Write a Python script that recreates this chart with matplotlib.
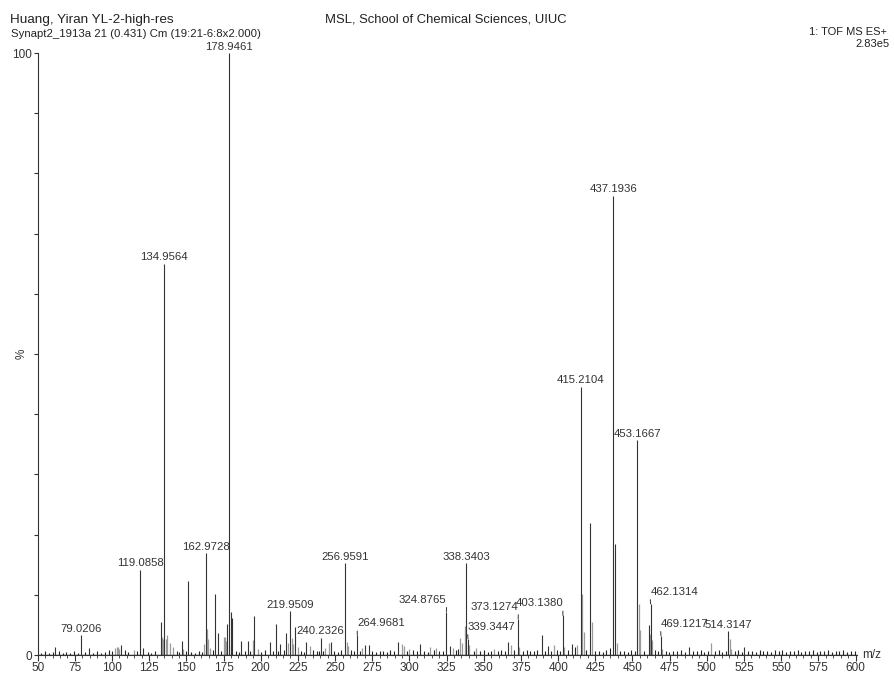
import matplotlib
matplotlib.use("Agg")
import matplotlib.pyplot as plt
from matplotlib.ticker import MultipleLocator, FixedLocator

plt.rcParams['font.family'] = ['Liberation Sans', 'DejaVu Sans']

# labelled peaks: m/z, relative intensity (%)
label_mz = [79.0206, 119.0858, 134.9564, 162.9728, 178.9461, 219.9509, 240.2326,
            256.9591, 264.9681, 324.8765, 338.3403, 339.3447, 373.1274, 403.1380,
            415.2104, 437.1936, 453.1667, 462.1314, 469.1217, 514.3147]
label_int = [3.3, 14.2, 65.0, 16.9, 100.0, 7.3, 2.9,
             15.3, 3.3, 7.2, 15.3, 2.7, 6.0, 6.6,
             44.6, 76.3, 35.7, 8.5, 3.2, 4.0]
# label placement: 0 = above, -1 = shifted left w/ leader, +1 = shifted right w/ leader
label_side = [0, 0, 0, 0, 0, 0, 0,
              0, 1, -1, 0, 1, -1, -1,
              0, 0, 0, 1, 1, 0]

# other dark peaks
dark_mz = [61.8, 84.6, 106.0, 121.0, 133.0, 147.2, 151.0, 169.0, 171.0, 177.2,
           179.9, 181.0, 187.0, 191.5, 195.8, 206.0, 210.1, 213.0, 217.2, 223.0,
           230.7, 247.0, 270.0, 272.6, 292.4, 307.0, 327.0, 366.5, 389.3, 393.0,
           409.0, 421.6, 438.3, 460.9, 488.0, 525.0]
dark_int = [1.4, 1.1, 1.6, 1.2, 5.4, 2.4, 12.3, 10.1, 3.7, 5.1,
            7.1, 6.2, 2.3, 2.4, 6.5, 2.2, 5.1, 1.8, 3.6, 4.7,
            2.2, 2.2, 1.7, 1.6, 2.2, 1.9, 1.5, 2.2, 3.3, 1.5,
            1.9, 22.0, 18.4, 5.0, 1.4, 1.3]

# light grey peaks (isotopes / shoulders)
grey_mz = [102.0, 103.0, 104.0, 105.0, 114.5, 133.6, 134.3, 136.0, 137.2, 139.0,
           141.0, 147.8, 162.0, 163.9, 164.6, 166.0, 175.4, 176.0, 176.6, 180.3,
           194.5, 198.0, 218.5, 221.0, 222.0, 225.0, 233.0, 243.5, 246.0, 257.9,
           258.9, 268.0, 295.0, 296.5, 300.0, 314.0, 318.0, 329.0, 334.2, 335.3,
           337.3, 340.3, 345.0, 357.0, 368.3, 374.0, 397.0, 404.2, 413.0, 416.2,
           417.2, 422.5, 439.3, 454.2, 455.2, 461.5, 463.2, 470.0, 502.5, 515.3,
           516.3]
grey_int = [1.2, 1.4, 1.4, 1.0, 0.9, 3.0, 2.7, 2.7, 3.4, 2.0,
            1.3, 1.0, 1.8, 4.4, 2.6, 1.2, 3.0, 3.0, 2.4, 1.5,
            2.5, 1.0, 2.0, 2.8, 1.8, 1.3, 1.5, 1.2, 2.0, 2.1,
            1.5, 1.2, 1.8, 1.5, 1.0, 1.3, 1.2, 1.2, 2.9, 2.0,
            4.8, 1.6, 1.2, 1.0, 1.6, 1.3, 1.6, 1.3, 1.7, 10.2,
            3.9, 5.5, 2.0, 8.4, 4.1, 3.5, 2.5, 1.0, 2.0, 2.7,
            1.0]

# baseline noise
noise_mz = [52.5, 55.1, 57.8, 60.2, 64.0, 66.7, 69.3, 71.9, 74.4, 76.8, 82.1, 87.0,
            89.6, 92.3, 95.0, 97.7, 99.8, 108.4, 110.9, 116.8, 124.0, 126.5, 129.2,
            143.5, 145.3, 149.6, 153.4, 156.1, 158.7, 160.2, 167.6, 173.1, 183.5,
            185.2, 189.3, 193.0, 200.5, 202.8, 208.1, 211.6, 215.4, 227.3, 229.1,
            235.0, 237.6, 239.0, 242.1, 249.4, 251.7, 254.0, 260.6, 262.4, 266.8,
            274.8, 277.2, 279.9, 282.3, 284.6, 287.1, 289.5, 298.3, 302.6, 305.0,
            309.8, 312.2, 316.4, 320.1, 322.5, 331.0, 332.6, 343.2, 347.5, 350.1,
            352.6, 355.0, 359.4, 361.8, 364.1, 370.5, 376.2, 378.9, 381.3, 383.7,
            386.0, 391.4, 395.2, 399.5, 401.3, 406.6, 411.2, 419.0, 424.8, 427.3,
            429.9, 432.4, 434.8, 441.7, 444.3, 446.9, 449.2, 451.5, 457.6, 465.4,
            467.5, 472.3, 474.8, 477.4, 480.1, 482.7, 485.3, 490.6, 493.2, 495.9,
            498.4, 500.7, 505.3, 507.9, 510.4, 512.6, 518.7, 521.3, 523.6, 527.8,
            530.4, 533.0, 535.5, 538.1, 540.6, 543.2, 545.7, 548.3, 550.6, 553.4,
            556.0, 558.5, 561.1, 563.6, 566.2, 568.8, 571.3, 573.9, 576.4, 579.0,
            581.5, 584.1, 586.6, 589.2, 591.7, 594.3, 596.8, 599.4]
noise_int = [0.4, 0.6, 0.3, 0.5, 0.7, 0.4, 0.5, 0.3, 0.6, 0.4, 0.5, 0.4,
             0.6, 0.3, 0.5, 0.8, 0.6, 0.9, 0.5, 0.6, 0.5, 0.4, 0.6,
             0.7, 0.5, 0.6, 0.5, 0.4, 0.7, 0.5, 0.8, 0.7, 0.6,
             0.5, 0.7, 0.6, 0.5, 0.8, 0.7, 0.6, 0.9, 0.7, 0.5,
             0.8, 0.6, 0.7, 0.6, 0.7, 0.5, 0.8, 0.9, 0.7, 0.6,
             0.6, 0.5, 0.7, 0.6, 0.5, 0.8, 0.6, 0.7, 0.8, 0.6,
             0.7, 0.5, 0.8, 0.6, 0.7, 0.8, 1.0, 0.7, 0.6, 0.8,
             0.5, 0.7, 0.6, 0.8, 0.7, 0.9, 0.6, 0.8, 0.6, 0.7,
             0.9, 0.7, 0.6, 0.8, 0.7, 0.8, 1.3, 0.9, 0.6, 0.7,
             0.5, 0.8, 1.2, 0.6, 0.7, 0.5, 0.8, 0.6, 0.7, 0.8,
             0.6, 0.7, 0.5, 0.7, 0.6, 0.8, 0.5, 0.7, 0.6, 0.8,
             0.5, 0.7, 0.6, 0.8, 0.5, 0.7, 0.6, 0.8, 0.5, 0.6,
             0.7, 0.5, 0.8, 0.6, 0.7, 0.5, 0.8, 0.6, 0.9, 0.5,
             0.7, 0.6, 0.8, 0.5, 0.7, 0.6, 0.9, 0.5, 0.7, 0.6,
             0.8, 0.5, 0.7, 0.6, 0.8, 0.5, 0.7, 0.6]

fig = plt.figure(figsize=(8.94, 6.73), dpi=100)
ax = fig.add_axes([37.7/894, 18/673, (857-37.7)/894, 602/673])

ax.vlines(noise_mz, 0, noise_int, color='#222222', lw=0.8)
ax.vlines(grey_mz, 0, grey_int, color='#9a9a9a', lw=0.9)
ax.vlines(dark_mz, 0, dark_int, color='#333333', lw=0.8)
ax.vlines(label_mz, 0, label_int, color='#333333', lw=0.8)
ax.axhline(0, color='#222222', lw=1.0)

for mz, h, side in zip(label_mz, label_int, label_side):
    txt = f"{mz:.4f}"
    if side == 0:
        ax.annotate(txt, (mz, h), xytext=(0, 1), textcoords='offset points',
                    ha='center', va='bottom', fontsize=8.2, color='#333333')
    else:
        ax.annotate(txt, (mz, h), xytext=(17*side, 5), textcoords='offset points',
                    ha='center', va='bottom', fontsize=8.2, color='#333333',
                    arrowprops=dict(arrowstyle='-', lw=0.7, color='#333333',
                                    shrinkA=0, shrinkB=0,
                                    relpos=(1, 0) if side < 0 else (0, 0)))

ax.set_xlim(50, 601)
ax.set_ylim(0, 100)
ax.xaxis.set_major_locator(MultipleLocator(25))
ax.xaxis.set_minor_locator(MultipleLocator(5))
ax.yaxis.set_major_locator(FixedLocator([0, 100]))
ax.yaxis.set_minor_locator(MultipleLocator(10))
ax.tick_params(axis='x', which='major', length=4, width=0.8, labelsize=8.5, pad=1, colors='#333333')
ax.tick_params(axis='x', which='minor', length=2, width=0.6, colors='#333333')
ax.tick_params(axis='y', which='both', length=3, width=0.8, labelsize=8.5, pad=1, colors='#333333')

for s in ['top', 'right']:
    ax.spines[s].set_visible(False)
for s in ['left', 'bottom']:
    ax.spines[s].set_linewidth(0.8)
    ax.spines[s].set_color('#333333')

ax.text(-0.02, 0.5, '%', transform=ax.transAxes, rotation=90,
        ha='center', va='center', fontsize=8.5, color='#333333')
fig.text(862/894, 1 - 655/673, 'm/z', ha='left', va='center', fontsize=8.5, color='#333333')

fig.text(10/894, 1 - 20/673, 'Huang, Yiran YL-2-high-res', ha='left', va='center', fontsize=9.7, color='#222222')
fig.text(11/894, 1 - 34/673, 'Synapt2_1913a 21 (0.431) Cm (19:21-6:8x2.000)', ha='left', va='center', fontsize=8.2, color='#222222')
fig.text(325/894, 1 - 20/673, 'MSL, School of Chemical Sciences, UIUC', ha='left', va='center', fontsize=9.4, color='#222222')
fig.text(887/894, 1 - 32/673, '1: TOF MS ES+', ha='right', va='center', fontsize=8, color='#222222')
fig.text(890/894, 1 - 44/673, '2.83e5', ha='right', va='center', fontsize=8, color='#222222')

fig.savefig('out.png', dpi=100)
